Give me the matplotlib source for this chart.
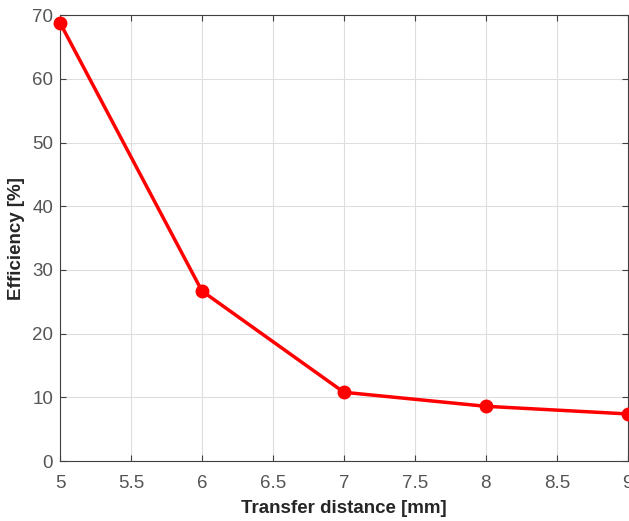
import matplotlib.pyplot as plt

# Transfer distance vs efficiency
distance_mm = [5, 6, 7, 8, 9]
efficiency_pct = [68.8, 26.7, 10.8, 8.6, 7.4]

x_ticks = [5, 5.5, 6, 6.5, 7, 7.5, 8, 8.5, 9]
x_tick_labels = ['5', '5.5', '6', '6.5', '7', '7.5', '8', '8.5', '9']
y_ticks = [0, 10, 20, 30, 40, 50, 60, 70]

plt.rcParams['font.family'] = ['Liberation Sans', 'DejaVu Sans']

fig = plt.figure(figsize=(6.29, 5.21), dpi=100)
ax = fig.add_axes([0.0954, 0.115, 0.9026, 0.856])

ax.plot(distance_mm, efficiency_pct, color='#ff0000', linewidth=2.5,
        marker='o', markersize=9, clip_on=False, zorder=3)

ax.set_xlim(5, 9)
ax.set_ylim(0, 70)
ax.set_xticks(x_ticks)
ax.set_xticklabels(x_tick_labels)
ax.set_yticks(y_ticks)

ax.grid(True, color='#dedede', linewidth=0.8)
ax.set_axisbelow(True)
for side in ax.spines.values():
    side.set_color('#404040')
    side.set_linewidth(0.8)
ax.tick_params(direction='in', length=4, color='#404040',
               labelcolor='#555555', labelsize=13.5, top=True, right=True)
ax.tick_params(axis='x', pad=10)
ax.tick_params(axis='y', pad=5)

ax.set_xlabel('Transfer distance [mm]', fontsize=13.5, fontweight='bold',
              color='#262626', labelpad=6)
ax.set_ylabel('Efficiency [%]', fontsize=13.5, fontweight='bold',
              color='#262626', labelpad=5)

fig.savefig('out.png', dpi=100)
